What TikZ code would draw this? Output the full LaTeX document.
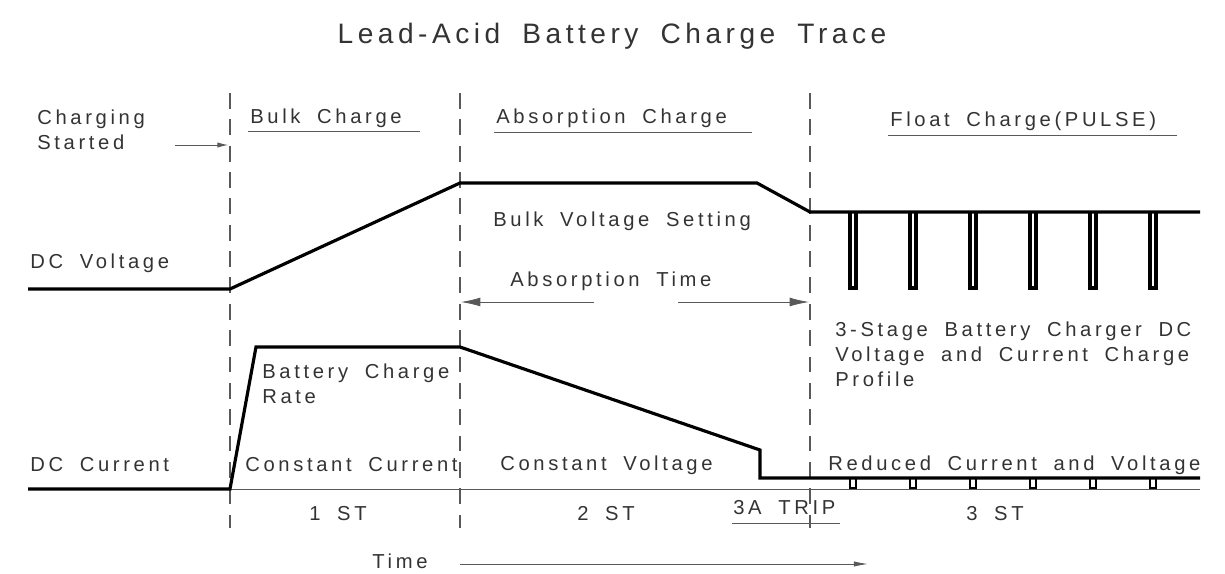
\documentclass[tikz,border=0pt]{standalone}
\usepackage{fontspec}
\setmainfont{Liberation Sans}[LetterSpace=18,WordSpace=1.8]
\newfontfamily\titlefont{Liberation Sans}[LetterSpace=16,WordSpace=1.8]
\usetikzlibrary{arrows.meta}
\begin{document}
\begin{tikzpicture}[x=0.02cm,y=-0.02cm,
  curve/.style={line width=1.8pt,line join=miter},
  guide/.style={line width=0.6pt,dash pattern=on 9pt off 6pt,gray!70!black},
  thin/.style={line width=0.5pt,gray!70!black},
  lbl/.style={font=\fontsize{11.5}{14}\selectfont,text=black!80,inner sep=0pt},
  ul/.style={lbl,anchor=south west}]
\useasboundingbox (0,0) rectangle (1225,574);
% title
\node[inner sep=0pt,font=\titlefont\fontsize{16}{19}\selectfont,text=black!80] (title) at (612,36) {Lead-Acid Battery Charge Trace};
% stage guides
\foreach \x in {230,460,810} \draw[guide] (\x,93) -- (\x,528);
% axis
\draw[thin] (230,489) -- (1200,489);
% headings
\node[lbl,anchor=west,align=left] (cs) at (37,130) {Charging\\Started};
\draw[thin,-{Latex[length=6pt,width=3pt]}] (175,145) -- (228,145);
\node[lbl,anchor=west] (bulk) at (250,118) {Bulk Charge};
\draw[thin] (248,131) -- (420,131);
\node[lbl,anchor=west] (abs) at (496,118) {Absorption Charge};
\draw[thin] (494,132) -- (752,132);
\node[lbl,anchor=west] (float) at (890,121) {Float Charge(PULSE)};
\draw[thin] (888,135) -- (1177,135);
% voltage
\node[lbl,anchor=west] (dcv) at (30,263) {DC Voltage};
\draw[curve] (28,289) -- (230,289) -- (460,183) -- (757,183) -- (810,212) -- (1200,212);
\foreach \x in {853,913,973,1033,1093,1153}
  \draw[curve] (\x-3,212) -- (\x-3,288) -- (\x+3,288) -- (\x+3,212);
\node[lbl,anchor=west] (bvs) at (493,221) {Bulk Voltage Setting};
\node[lbl,anchor=west] (at) at (510,281) {Absorption Time};
\draw[thin,-{Latex[length=11pt,width=5pt]}] (594,302) -- (461,302);
\draw[thin,-{Latex[length=11pt,width=5pt]}] (678,302) -- (809,302);
\node[lbl,anchor=north west,align=left] (prof) at (835,322) {3-Stage Battery Charger DC\\Voltage and Current Charge\\Profile};
% current
\node[lbl,anchor=west] (dcc) at (30,465) {DC Current};
\draw[curve] (28,489) -- (230,489) -- (256,347) -- (460,347) -- (760,450) -- (760,478) -- (1200,478);
\foreach \x in {853,913,973,1033,1093,1153}
  \draw[curve,line width=1.4pt] (\x-3,478) -- (\x-3,488) -- (\x+3,488) -- (\x+3,478);
\node[lbl,anchor=north west,align=left] (bcr) at (262,364) {Battery Charge\\Rate};
\node[lbl,anchor=west] (cc) at (245,465) {Constant Current};
\node[lbl,anchor=west] (cv) at (500,465) {Constant Voltage};
\node[lbl,anchor=west] (rcv) at (828,465) {Reduced Current and Voltage};
% stages
\node[lbl] (s1) at (338,514) {1 ST};
\node[lbl] (s2) at (606,514) {2 ST};
\node[lbl,anchor=west] (trip) at (733,508) {3A TRIP};
\draw[thin] (732,523) -- (840,523);
\node[lbl] (s3) at (995,514) {3 ST};
% time
\node[lbl] (time) at (400,561) {Time};
\draw[thin,-{Latex[length=8pt,width=3pt]}] (460,564) -- (868,564);
\end{tikzpicture}
\end{document}
